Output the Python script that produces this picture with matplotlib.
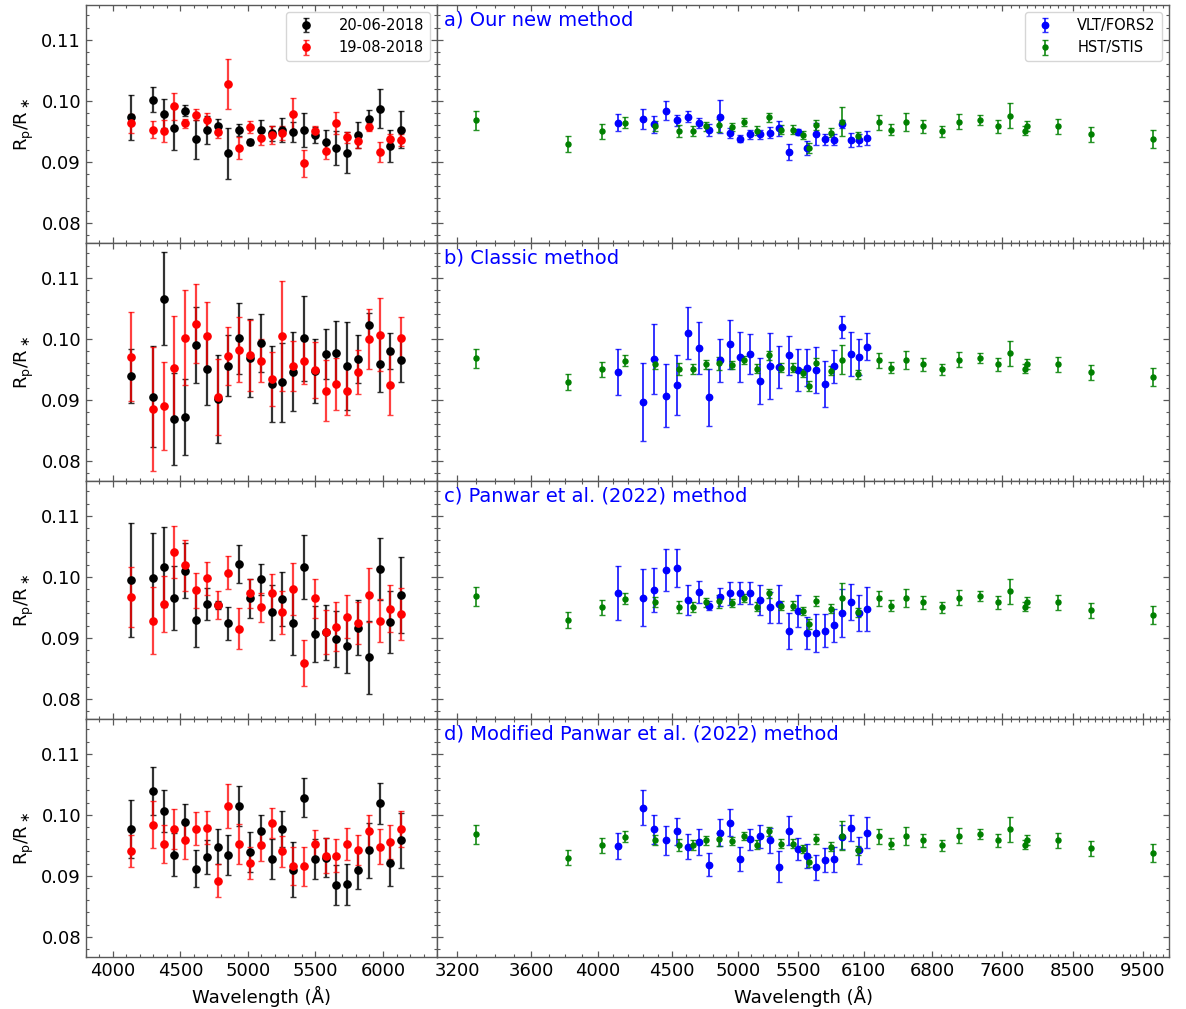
import matplotlib
matplotlib.use("Agg")
import matplotlib.pyplot as plt
from matplotlib.ticker import MultipleLocator, FixedLocator, FuncFormatter
import numpy as np

# --- VLT/FORS2 spectroscopic bins (Angstrom) ---
wl_fors = [4130, 4295, 4375, 4455, 4535, 4615, 4695, 4775, 4855, 4935,
           5015, 5095, 5175, 5255, 5335, 5415, 5495, 5575, 5655, 5735,
           5815, 5895, 5975, 6055, 6135]

# --- individual nights: a) our new method ---
n1_a = [0.0973, 0.1002, 0.0979, 0.0955, 0.0984, 0.0937, 0.0953, 0.0958, 0.0914, 0.0952,
        0.0932, 0.0953, 0.0947, 0.0952, 0.0949, 0.0952, 0.0944, 0.0933, 0.0923, 0.0915,
        0.0944, 0.0970, 0.0987, 0.0926, 0.0953]
n1_a_err = [0.0037, 0.0021, 0.0024, 0.0036, 0.0009, 0.0032, 0.0023, 0.0013, 0.0042, 0.0010,
            0.0005, 0.0016, 0.0012, 0.0020, 0.0016, 0.0028, 0.0013, 0.0019, 0.0028, 0.0034,
            0.0022, 0.0015, 0.0032, 0.0027, 0.0031]
n2_a = [0.0963, 0.0953, 0.0951, 0.0991, 0.0963, 0.0977, 0.0968, 0.0949, 0.1028, 0.0923,
        0.0957, 0.0939, 0.0944, 0.0947, 0.0978, 0.0898, 0.0951, 0.0918, 0.0963, 0.0940,
        0.0934, 0.0957, 0.0916, 0.0937, 0.0936]
n2_a_err = [0.0015, 0.0014, 0.0018, 0.0022, 0.0007, 0.0009, 0.0012, 0.0010, 0.0041, 0.0018,
            0.0010, 0.0012, 0.0014, 0.0011, 0.0026, 0.0022, 0.0007, 0.0013, 0.0018, 0.0009,
            0.0011, 0.0007, 0.0017, 0.0009, 0.0010]

# --- b) classic method ---
n1_b = [0.0939, 0.0905, 0.1066, 0.0869, 0.0872, 0.0990, 0.0950, 0.0902, 0.0956, 0.1001,
        0.0968, 0.0993, 0.0926, 0.0929, 0.0946, 0.1001, 0.0947, 0.0975, 0.0977, 0.0955,
        0.0967, 0.1022, 0.0958, 0.0980, 0.0966]
n1_b_err = [0.0044, 0.0083, 0.0076, 0.0075, 0.0063, 0.0063, 0.0058, 0.0072, 0.0050, 0.0058,
            0.0064, 0.0048, 0.0063, 0.0065, 0.0065, 0.0070, 0.0052, 0.0041, 0.0053, 0.0072,
            0.0040, 0.0020, 0.0045, 0.0030, 0.0036]
n2_b = [0.0971, 0.0885, 0.0890, 0.0952, 0.1002, 0.1025, 0.1004, 0.0905, 0.0972, 0.0982,
        0.0973, 0.0964, 0.0934, 0.1004, 0.0955, 0.0963, 0.0949, 0.0915, 0.0926, 0.0915,
        0.0946, 0.1000, 0.1007, 0.0925, 0.1001]
n2_b_err = [0.0073, 0.0102, 0.0072, 0.0085, 0.0078, 0.0065, 0.0057, 0.0062, 0.0048, 0.0053,
            0.0058, 0.0035, 0.0044, 0.0090, 0.0041, 0.0037, 0.0046, 0.0050, 0.0042, 0.0039,
            0.0036, 0.0049, 0.0060, 0.0050, 0.0035]

# --- c) Panwar et al. (2022) method ---
n1_c = [0.0995, 0.0998, 0.1016, 0.0965, 0.1010, 0.0930, 0.0955, 0.0954, 0.0924, 0.1021,
        0.0965, 0.0996, 0.0942, 0.0964, 0.0925, 0.1016, 0.0906, 0.0909, 0.0898, 0.0887,
        0.0917, 0.0868, 0.1013, 0.0926, 0.0970]
n1_c_err = [0.0093, 0.0074, 0.0066, 0.0052, 0.0045, 0.0045, 0.0026, 0.0007, 0.0027, 0.0031,
            0.0032, 0.0025, 0.0045, 0.0044, 0.0053, 0.0052, 0.0046, 0.0045, 0.0046, 0.0044,
            0.0045, 0.0060, 0.0051, 0.0051, 0.0062]
n2_c = [0.0967, 0.0928, 0.0955, 0.1041, 0.1019, 0.0978, 0.0998, 0.0954, 0.1007, 0.0915,
        0.0973, 0.0950, 0.0973, 0.0942, 0.0980, 0.0859, 0.0965, 0.0909, 0.0918, 0.0935,
        0.0924, 0.0970, 0.0928, 0.0948, 0.0939]
n2_c_err = [0.0049, 0.0055, 0.0046, 0.0043, 0.0042, 0.0029, 0.0027, 0.0023, 0.0027, 0.0034,
            0.0024, 0.0024, 0.0032, 0.0035, 0.0042, 0.0038, 0.0032, 0.0036, 0.0040, 0.0036,
            0.0034, 0.0044, 0.0035, 0.0038, 0.0043]

# --- d) modified Panwar et al. (2022) method ---
n1_d = [0.0977, 0.1039, 0.1006, 0.0935, 0.0988, 0.0912, 0.0931, 0.0948, 0.0934, 0.1014,
        0.0939, 0.0973, 0.0928, 0.0977, 0.0910, 0.1028, 0.0928, 0.0930, 0.0885, 0.0886,
        0.0910, 0.0942, 0.1019, 0.0921, 0.0958]
n1_d_err = [0.0048, 0.0039, 0.0034, 0.0036, 0.0030, 0.0031, 0.0028, 0.0028, 0.0033, 0.0033,
            0.0033, 0.0026, 0.0033, 0.0030, 0.0045, 0.0032, 0.0033, 0.0032, 0.0033, 0.0034,
            0.0032, 0.0045, 0.0034, 0.0038, 0.0045]
n2_d = [0.0941, 0.0984, 0.0952, 0.0977, 0.0958, 0.0977, 0.0979, 0.0892, 0.1014, 0.0952,
        0.0921, 0.0950, 0.0987, 0.0940, 0.0916, 0.0916, 0.0952, 0.0933, 0.0933, 0.0952,
        0.0942, 0.0973, 0.0948, 0.0955, 0.0977]
n2_d_err = [0.0026, 0.0039, 0.0031, 0.0033, 0.0030, 0.0027, 0.0027, 0.0027, 0.0036, 0.0033,
            0.0026, 0.0025, 0.0025, 0.0026, 0.0031, 0.0032, 0.0023, 0.0029, 0.0027, 0.0026,
            0.0025, 0.0026, 0.0029, 0.0028, 0.0030]

# --- combined VLT/FORS2 spectra per method ---
fors_a = [0.0964, 0.0970, 0.0962, 0.0984, 0.0968, 0.0974, 0.0964, 0.0952, 0.0974, 0.0947,
          0.0938, 0.0945, 0.0945, 0.0948, 0.0955, 0.0916, 0.0949, 0.0923, 0.0946, 0.0937,
          0.0936, 0.0962, 0.0936, 0.0936, 0.0939]
fors_a_err = [0.0014, 0.0016, 0.0014, 0.0015, 0.0009, 0.0009, 0.0008, 0.0010, 0.0027, 0.0008,
              0.0006, 0.0008, 0.0008, 0.0009, 0.0012, 0.0013, 0.0005, 0.0011, 0.0018, 0.0009,
              0.0009, 0.0007, 0.0011, 0.0010, 0.0012]
fors_b = [0.0946, 0.0897, 0.0967, 0.0907, 0.0924, 0.1010, 0.0985, 0.0904, 0.0965, 0.0991,
          0.0971, 0.0975, 0.0931, 0.0955, 0.0954, 0.0973, 0.0949, 0.0953, 0.0949, 0.0926,
          0.0955, 0.1019, 0.0975, 0.0970, 0.0987]
fors_b_err = [0.0038, 0.0064, 0.0058, 0.0051, 0.0049, 0.0043, 0.0042, 0.0047, 0.0035, 0.0040,
              0.0041, 0.0033, 0.0037, 0.0054, 0.0035, 0.0032, 0.0034, 0.0030, 0.0038, 0.0038,
              0.0027, 0.0018, 0.0036, 0.0029, 0.0022]
fors_c = [0.0973, 0.0966, 0.0978, 0.1011, 0.1015, 0.0962, 0.0975, 0.0953, 0.0967, 0.0973,
          0.0973, 0.0973, 0.0962, 0.0950, 0.0956, 0.0911, 0.0944, 0.0908, 0.0908, 0.0912,
          0.0921, 0.0941, 0.0959, 0.0941, 0.0948]
fors_c_err = [0.0044, 0.0047, 0.0036, 0.0034, 0.0031, 0.0024, 0.0018, 0.0008, 0.0014, 0.0019,
              0.0018, 0.0018, 0.0025, 0.0025, 0.0031, 0.0030, 0.0026, 0.0027, 0.0031, 0.0027,
              0.0027, 0.0039, 0.0029, 0.0030, 0.0036]
fors_d = [0.0949, 0.1012, 0.0976, 0.0958, 0.0973, 0.0948, 0.0955, 0.0918, 0.0971, 0.0987,
          0.0928, 0.0960, 0.0965, 0.0958, 0.0915, 0.0974, 0.0944, 0.0933, 0.0914, 0.0926,
          0.0927, 0.0964, 0.0978, 0.0942, 0.0971]
fors_d_err = [0.0022, 0.0028, 0.0024, 0.0024, 0.0022, 0.0021, 0.0021, 0.0019, 0.0022, 0.0022,
              0.0020, 0.0017, 0.0019, 0.0021, 0.0025, 0.0024, 0.0018, 0.0020, 0.0021, 0.0020,
              0.0020, 0.0020, 0.0021, 0.0022, 0.0025]

# --- HST/STIS reference spectrum ---
wl_stis = [3296, 3818, 4028, 4180, 4379, 4550, 4652, 4752, 4849, 4948,
           5045, 5148, 5247, 5348, 5454, 5544, 5594, 5651, 5790, 5889,
           6044, 6252, 6369, 6525, 6705, 6903, 7097, 7333, 7551, 7688,
           7882, 7907, 8306, 8752, 9644]
stis = [0.0968, 0.0930, 0.0950, 0.0964, 0.0959, 0.0950, 0.0950, 0.0958, 0.0960, 0.0957,
        0.0965, 0.0951, 0.0973, 0.0953, 0.0953, 0.0944, 0.0923, 0.0960, 0.0948, 0.0966,
        0.0942, 0.0965, 0.0953, 0.0965, 0.0958, 0.0950, 0.0966, 0.0969, 0.0958, 0.0976,
        0.0951, 0.0959, 0.0958, 0.0945, 0.0938]
stis_err = [0.0015, 0.0013, 0.0012, 0.0009, 0.0008, 0.0010, 0.0008, 0.0007, 0.0011, 0.0007,
            0.0007, 0.0007, 0.0007, 0.0008, 0.0007, 0.0007, 0.0008, 0.0008, 0.0008, 0.0024,
            0.0007, 0.0012, 0.0009, 0.0015, 0.0010, 0.0009, 0.0012, 0.0008, 0.0010, 0.0020,
            0.0007, 0.0008, 0.0012, 0.0012, 0.0015]

panel_titles = ["a) Our new method", "b) Classic method",
                "c) Panwar et al. (2022) method",
                "d) Modified Panwar et al. (2022) method"]
night_labels = ["20-06-2018", "19-08-2018"]
inst_labels = ["VLT/FORS2", "HST/STIS"]
right_ticks = [3200, 3600, 4000, 4500, 5000, 5500, 6100, 6800, 7600, 8500, 9500]

night1 = [(n1_a, n1_a_err), (n1_b, n1_b_err), (n1_c, n1_c_err), (n1_d, n1_d_err)]
night2 = [(n2_a, n2_a_err), (n2_b, n2_b_err), (n2_c, n2_c_err), (n2_d, n2_d_err)]
fors = [(fors_a, fors_a_err), (fors_b, fors_b_err), (fors_c, fors_c_err), (fors_d, fors_d_err)]

plt.rcParams["font.family"] = "DejaVu Sans"

fig = plt.figure(figsize=(11.86, 10.09), dpi=100)
gs = fig.add_gridspec(4, 2, width_ratios=[351, 732], hspace=0, wspace=0,
                      left=0.0725, right=0.9857, top=0.995, bottom=0.0515)

ylim = (0.0767, 0.1157)
spine_col = "0.35"


def style_axis(ax):
    ax.set_ylim(*ylim)
    ax.yaxis.set_major_locator(MultipleLocator(0.01))
    ax.yaxis.set_minor_locator(MultipleLocator(0.002))
    ax.tick_params(which="both", direction="in", top=True, right=True,
                   color=spine_col, labelsize=13)
    ax.tick_params(which="major", length=4, width=0.9)
    ax.tick_params(which="minor", length=2.2, width=0.8)
    for s in ax.spines.values():
        s.set_color(spine_col)
        s.set_linewidth(1.0)


for row in range(4):
    axl = fig.add_subplot(gs[row, 0])
    axr = fig.add_subplot(gs[row, 1])

    # left: the two nights
    y1, e1 = night1[row]
    y2, e2 = night2[row]
    axl.errorbar(wl_fors, y1, yerr=e1, fmt="o", color="k", ms=5.2,
                 ecolor=(0, 0, 0, 0.8), elinewidth=1.6, capsize=2.4, capthick=1.0,
                 label=night_labels[0])
    axl.errorbar(wl_fors, y2, yerr=e2, fmt="o", color="r", ms=5.2,
                 ecolor=(1, 0, 0, 0.75), elinewidth=1.6, capsize=2.4, capthick=1.0,
                 label=night_labels[1])
    axl.set_xlim(3800, 6400)
    axl.xaxis.set_major_locator(MultipleLocator(500))
    axl.xaxis.set_minor_locator(MultipleLocator(100))
    style_axis(axl)
    axl.set_ylabel(r"R$_{\rm p}$/R$_\ast$", fontsize=13)

    # right: combined FORS2 spectrum with the STIS reference
    yf, ef = fors[row]
    axr.errorbar(wl_fors, yf, yerr=ef, fmt="o", color="b", ms=4.6,
                 ecolor=(0, 0, 1, 0.8), elinewidth=1.4, capsize=2.2, capthick=1.0,
                 label=inst_labels[0])
    axr.errorbar(wl_stis, stis, yerr=stis_err, fmt="o", color="g", ms=3.6,
                 ecolor=(0, 0.5, 0, 0.85), elinewidth=1.3, capsize=2.0, capthick=1.0,
                 label=inst_labels[1])
    axr.set_xscale("log")
    axr.set_xlim(3100, 9900)
    axr.xaxis.set_major_locator(FixedLocator(right_ticks))
    axr.xaxis.set_major_formatter(FuncFormatter(lambda v, p: f"{v:.0f}"))
    axr.xaxis.set_minor_locator(MultipleLocator(100))
    axr.xaxis.set_minor_formatter(FuncFormatter(lambda v, p: ""))
    style_axis(axr)
    axr.tick_params(axis="y", labelleft=False)
    axr.text(0.01, 0.975, panel_titles[row], transform=axr.transAxes,
             color="b", fontsize=14, ha="left", va="top")

    if row < 3:
        axl.tick_params(axis="x", labelbottom=False)
        axr.tick_params(axis="x", labelbottom=False)
    else:
        axl.set_xlabel("Wavelength (Å)", fontsize=13)
        axr.set_xlabel("Wavelength (Å)", fontsize=13)

    if row == 0:
        axl.legend(loc="upper right", fontsize=10.5, handletextpad=1.2)
        axr.legend(loc="upper right", fontsize=10.5, handletextpad=1.2)

fig.savefig("out.png", dpi=100)
